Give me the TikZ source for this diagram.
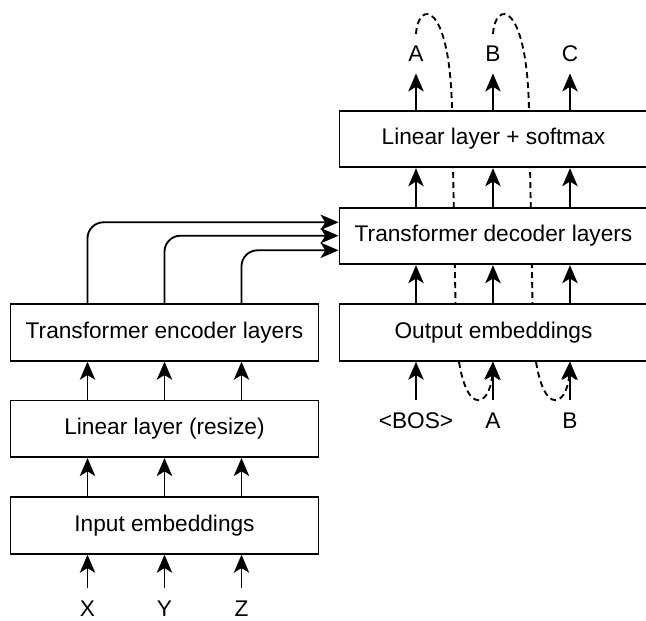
\documentclass[tikz,border=0pt]{standalone}
\usepackage{fontspec}
\setmainfont{Liberation Sans}
\usetikzlibrary{arrows.meta,backgrounds}
\begin{document}
\begin{tikzpicture}[x=0.75pt,y=-0.75pt,
  box/.style={draw,line width=1.4pt,fill=white,minimum width=231pt,minimum height=42.4pt,inner sep=0pt,
    font=\fontsize{17}{20}\selectfont},
  lbl/.style={inner xsep=0pt,inner ysep=8.5pt,text height=12.2pt,text depth=0pt,
    font=\fontsize{17}{20}\selectfont},
  arr/.style={line width=1.4pt,-{Stealth[length=13.5pt,width=11.5pt,inset=3.5pt]}},
  dsh/.style={line width=1.4pt,dash pattern=on 4.5pt off 3pt,-{Stealth[length=13.5pt,width=11.5pt,inset=3.5pt]}}]
\clip (0,0) rectangle (646,621);
% encoder column
\node[box] (inemb) at (164.5,525.5) {Input embeddings};
\node[box] (linres) at (164.5,428.8) {Linear layer (resize)};
\node[box] (enc) at (164.5,332.5) {Transformer encoder layers};
% decoder column
\node[box] (outemb) at (493.5,332.5) {Output embeddings};
\node[box] (dec) at (493.5,236) {Transformer decoder layers};
\node[box] (soft) at (493.5,139) {Linear layer + softmax};
% labels
\node[lbl] (X) at (87.5,608) {X};
\node[lbl] (Y) at (164.5,608) {Y};
\node[lbl] (Z) at (241.5,608) {Z};
\node[lbl] (iBOS) at (416,420) {<BOS>};
\node[lbl] (iA) at (493,420) {A};
\node[lbl] (iB) at (570,420) {B};
\node[lbl] (oA) at (416,53.7) {A};
\node[lbl] (oB) at (493,53.7) {B};
\node[lbl] (oC) at (570,53.7) {C};
% encoder arrows
\foreach \n in {X,Y,Z}{
  \draw[arr] (\n.north) -- (inemb.south -| \n);
  \draw[arr] (inemb.north -| \n) -- (linres.south -| \n);
  \draw[arr] (linres.north -| \n) -- (enc.south -| \n);
}
% encoder to decoder
\coordinate (f1) at (0,222.3);
\coordinate (f2) at (0,235.7);
\coordinate (f3) at (0,250.3);
\draw[arr,rounded corners=12pt] (enc.north -| X) |- (dec.west |- f1);
\draw[arr,rounded corners=12pt] (enc.north -| Y) |- (dec.west |- f2);
\draw[arr,rounded corners=12pt] (enc.north -| Z) |- (dec.west |- f3);
% decoder arrows
\foreach \i/\o in {iBOS/oA,iA/oB,iB/oC}{
  \draw[arr] (\i.north) -- (outemb.south -| \i);
  \draw[arr] (outemb.north -| \i) -- (dec.south -| \i);
  \draw[arr] (dec.north -| \i) -- (soft.south -| \i);
  \draw[arr] (soft.north -| \o) -- (\o.south);
}
% feedback (dashed)
\begin{scope}[on background layer]
\draw[dsh] (oA.north) .. controls (418,0) and (450,0) .. (452,110) -- (456,330)
   .. controls (460,420) and (490,410) .. (outemb.south -| iA);
\draw[dsh] (oB.north) .. controls (495,0) and (527,0) .. (529,110) -- (533,330)
   .. controls (537,420) and (567,410) .. (outemb.south -| iB);
\end{scope}
\end{tikzpicture}
\end{document}
